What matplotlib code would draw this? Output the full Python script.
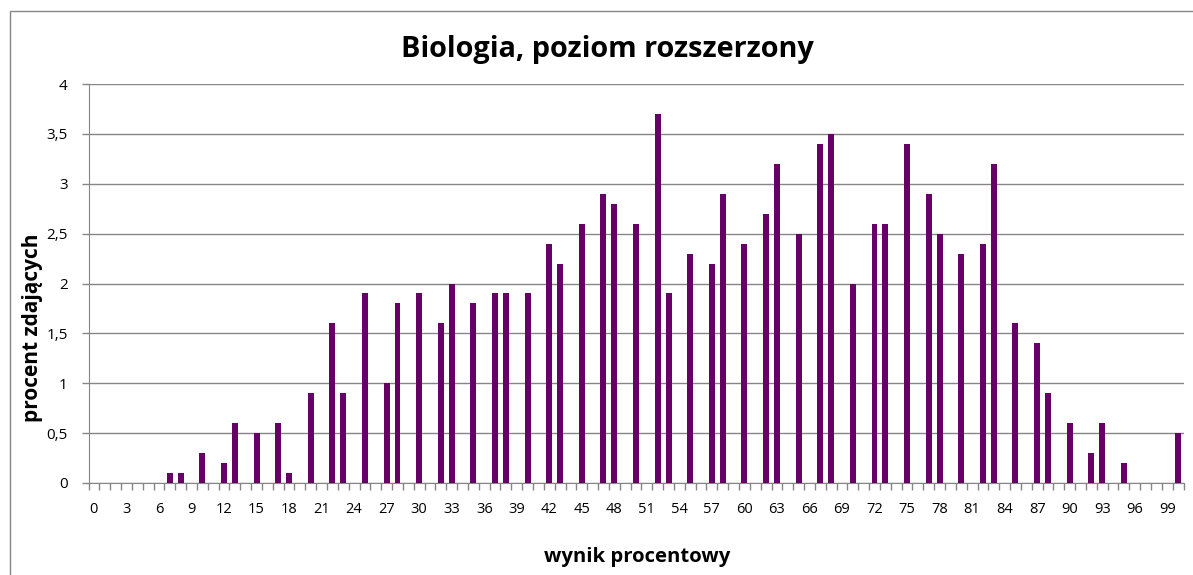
import numpy as np
import matplotlib
matplotlib.use("Agg")
import matplotlib.pyplot as plt
from matplotlib.patches import Rectangle

# wynik procentowy 0..100, procent zdajacych (0 where no bar)
scores = list(range(0, 101))
bar_scores = [7, 8, 10, 12, 13, 15, 17, 18, 20, 22, 23, 25, 27, 28, 30, 32, 33,
              35, 37, 38, 40, 42, 43, 45, 47, 48, 50, 52, 53, 55, 57, 58, 60, 62,
              63, 65, 67, 68, 70, 72, 73, 75, 77, 78, 80, 82, 83, 85, 87, 88, 90,
              92, 93, 95, 100]
bar_values = [0.1, 0.1, 0.3, 0.2, 0.6, 0.5, 0.6, 0.1, 0.9, 1.6, 0.9, 1.9, 1.0, 1.8,
              1.9, 1.6, 2.0, 1.8, 1.9, 1.9, 1.9, 2.4, 2.2, 2.6, 2.9, 2.8, 2.6, 3.7,
              1.9, 2.3, 2.2, 2.9, 2.4, 2.7, 3.2, 2.5, 3.4, 3.5, 2.0, 2.6, 2.6, 3.4,
              2.9, 2.5, 2.3, 2.4, 3.2, 1.6, 1.4, 0.9, 0.6, 0.3, 0.6, 0.2, 0.5]
values = [0.0] * len(scores)
for s, v in zip(bar_scores, bar_values):
    values[s] = v

yticks = [0, 0.5, 1, 1.5, 2, 2.5, 3, 3.5, 4]
ytick_labels = ["0", "0,5", "1", "1,5", "2", "2,5", "3", "3,5", "4"]

title = "Biologia, poziom rozszerzony"
xlabel = "wynik procentowy"
ylabel = "procent zdających"

plt.rcParams["font.family"] = ["Open Sans", "DejaVu Sans"]

W, H = 1193, 575
fig = plt.figure(figsize=(W / 100, H / 100), dpi=100)
# chart area border (Excel-style)
fig.patches.append(Rectangle((10 / W, -0.1), 1.2, 1 - 11 / H + 0.1,
                             transform=fig.transFigure, fill=False,
                             edgecolor="#868686", linewidth=1.0))

ax = fig.add_axes([88.5 / W, (H - 483) / H, (1183.5 - 88.5) / W, (483 - 84) / H])
ax.bar(scores, values, width=0.55, color="#660066", zorder=3)

ax.set_xlim(-0.5, 100.5)
ax.set_ylim(0, 4)
ax.set_yticks(yticks)
ax.set_yticklabels(ytick_labels, fontsize=11)
ax.yaxis.grid(True, color="#868686", linewidth=1.0, zorder=0)

ax.set_xticks(scores[::3])
ax.set_xticklabels([str(s) for s in scores[::3]], fontsize=10.5)
ax.set_xticks(np.arange(-0.5, 101, 1), minor=True)
ax.tick_params(axis="x", which="major", length=0, pad=14)
ax.tick_params(axis="x", which="minor", length=5, color="#868686", width=1)
ax.tick_params(axis="y", length=5, color="#868686", width=1, pad=10)

for side in ["top", "right"]:
    ax.spines[side].set_visible(False)
for side in ["left", "bottom"]:
    ax.spines[side].set_color("#868686")

fig.text(607 / W, 1 - 50 / H, title, fontsize=20.8, fontweight="bold",
         ha="center", va="center")
fig.text(637 / W, 1 - 557 / H, xlabel, fontsize=14.6, fontweight="bold",
         ha="center", va="center")
fig.text(33 / W, 1 - 328 / H, ylabel, fontsize=15, fontweight="bold",
         ha="center", va="center", rotation=90)

fig.savefig("out.png", dpi=100)
